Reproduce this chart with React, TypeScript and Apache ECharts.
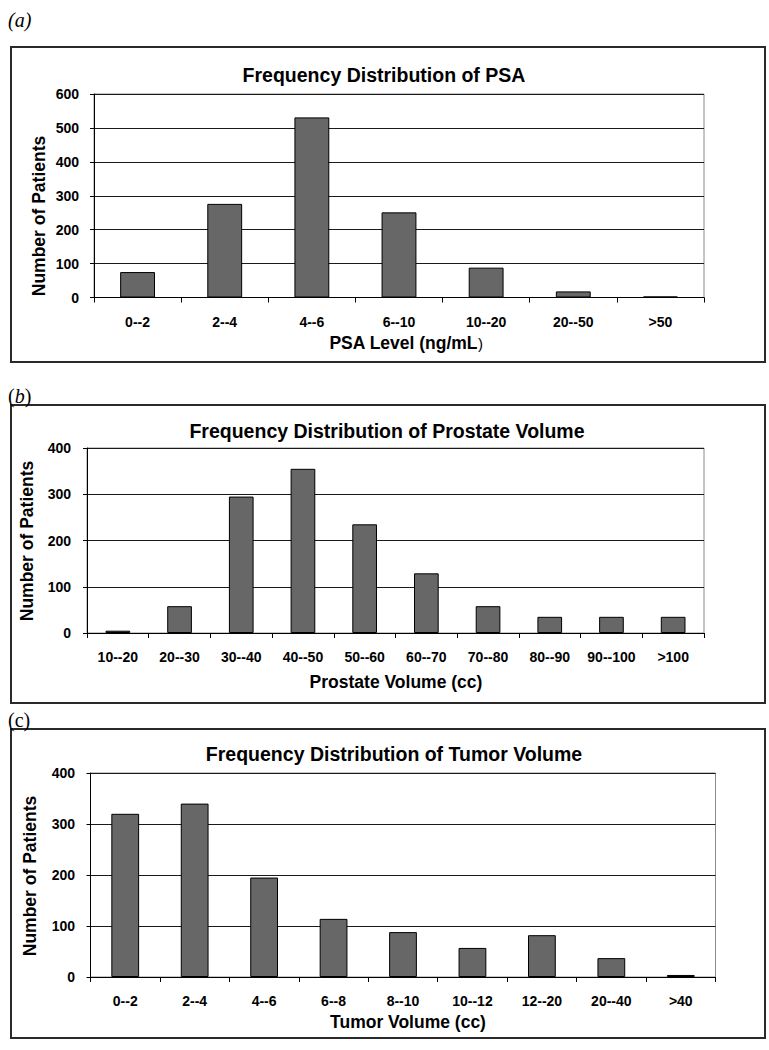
import React, { useEffect, useRef } from "react";
import * as echarts from "echarts";

const psaCategories = ["0--2", "2--4", "4--6", "6--10", "10--20", "20--50", ">50"];
const psaValues = [75, 276, 531, 251, 88, 18, 3];

const prostateCategories = ["10--20", "20--30", "30--40", "40--50", "50--60", "60--70", "70--80", "80--90", "90--100", ">100"];
const prostateValues = [5, 58, 295, 355, 235, 129, 58, 35, 35, 35];

const tumorCategories = ["0--2", "2--4", "4--6", "6--8", "8--10", "10--12", "12--20", "20--40", ">40"];
const tumorValues = [320, 340, 195, 114, 88, 57, 82, 37, 4];

const titles = [
  "Frequency Distribution of PSA",
  "Frequency Distribution of Prostate Volume",
  "Frequency Distribution of Tumor Volume",
];
const yName = "Number of Patients";

const FONT = "'Liberation Sans', Arial, sans-serif";
const SERIF = "'Liberation Serif', 'Times New Roman', serif";

export default function App() {
  const ref = useRef<HTMLDivElement>(null);
  useEffect(() => {
    if (!ref.current) return;
    const chart = echarts.init(ref.current, null, { renderer: "svg" });

    const grids = [
      { left: 94, top: 94, width: 610, height: 203.5 },
      { left: 87, top: 448, width: 617, height: 185 },
      { left: 90.5, top: 773, width: 625, height: 204 },
    ];
    const cats = [psaCategories, prostateCategories, tumorCategories];
    const vals = [psaValues, prostateValues, tumorValues];
    const maxes = [600, 400, 400];
    const yMargins = [15, 16, 15.5];

    const txt = (text: string, x: number, y: number, size: number, extra: any = {}) => ({
      type: "text",
      x,
      y,
      silent: true,
      ...extra,
      style: {
        text,
        fill: "#000",
        font: `bold ${size}px ${FONT}`,
        textAlign: "center",
        textVerticalAlign: "middle",
        align: "center",
        verticalAlign: "middle",
        ...(extra.style || {}),
      },
    });

    const boxes = [
      { y: 47, h: 315 },
      { y: 405, h: 298 },
      { y: 729, h: 309 },
    ].map((b) => ({
      type: "rect",
      silent: true,
      shape: { x: 11, y: b.y, width: 754, height: b.h },
      style: { fill: "none", stroke: "#2a2a2a", lineWidth: 2 },
      z: -1,
    }));

    const graphic: any[] = [
      ...boxes,
      {
        type: "text",
        x: 8,
        y: 20,
        silent: true,
        style: { text: "(a)", fill: "#000", font: `italic 20px ${SERIF}`, textVerticalAlign: "middle", verticalAlign: "middle" },
      },
      {
        type: "text",
        x: 8,
        y: 396,
        silent: true,
        style: {
          text: "({i|b})",
          fill: "#000",
          font: `20px ${SERIF}`,
          textVerticalAlign: "middle",
          verticalAlign: "middle",
          rich: { i: { font: `italic 20px ${SERIF}`, fill: "#000" } },
        },
      },
      {
        type: "text",
        x: 8,
        y: 720,
        silent: true,
        style: { text: "(c)", fill: "#000", font: `20px ${SERIF}`, textVerticalAlign: "middle", verticalAlign: "middle" },
      },
      txt(titles[0], 384, 75, 19.5),
      txt(titles[1], 387, 431, 19.5),
      txt(titles[2], 394, 754, 19.5),
      {
        type: "text",
        x: 406,
        y: 343,
        silent: true,
        style: {
          text: "{b|PSA Level (ng/mL}{r|)}",
          fill: "#000",
          textAlign: "center",
          textVerticalAlign: "middle",
          align: "center",
          verticalAlign: "middle",
          rich: {
            b: { font: `bold 17.5px ${FONT}`, fill: "#000" },
            r: { font: `15px ${FONT}`, fill: "#000" },
          },
        },
      },
      txt("Prostate Volume (cc)", 396, 682, 17.5),
      txt("Tumor Volume (cc)", 408, 1022, 17.5),
      txt(yName, 39, 216, 17.5, { rotation: Math.PI / 2 }),
      txt(yName, 27, 541, 17.5, { rotation: Math.PI / 2 }),
      txt(yName, 30, 876, 17.5, { rotation: Math.PI / 2 }),
    ];

    const option: any = {
      animation: false,
      backgroundColor: "#fff",
      grid: grids.map((g) => ({
        ...g,
        show: true,
        borderColor: "#8c8c8c",
        borderWidth: 1,
        backgroundColor: "transparent",
        containLabel: false,
      })),
      xAxis: cats.map((c, i) => ({
        type: "category",
        gridIndex: i,
        data: c,
        boundaryGap: true,
        axisLine: { show: true, lineStyle: { color: "#000", width: 1 } },
        axisTick: { show: true, inside: false, length: 5, lineStyle: { color: "#000" } },
        axisLabel: {
          interval: 0,
          margin: 17,
          color: "#000",
          fontFamily: FONT,
          fontWeight: "bold",
          fontSize: 14,
        },
        splitLine: { show: false },
      })),
      yAxis: maxes.map((m, i) => ({
        type: "value",
        gridIndex: i,
        min: 0,
        max: m,
        interval: 100,
        axisLine: { show: true, lineStyle: { color: "#000", width: 1 } },
        axisTick: { show: true, inside: false, length: 4, lineStyle: { color: "#000" } },
        axisLabel: {
          margin: yMargins[i],
          color: "#000",
          fontFamily: FONT,
          fontWeight: "bold",
          fontSize: 14,
        },
        splitLine: { show: true, lineStyle: { color: "#1a1a1a", width: 1 } },
      })),
      series: vals.map((v, i) => ({
        type: "bar",
        xAxisIndex: i,
        yAxisIndex: i,
        data: v,
        barWidth: "40%",
        itemStyle: { color: "#676767", borderColor: "#000", borderWidth: 1 },
        z: 3,
      })),
      graphic,
    };

    chart.setOption(option);
    return () => chart.dispose();
  }, []);

  return (
    <div
      ref={ref}
      style={{ position: "absolute", left: 0, top: 0, width: 769, height: 1050 }}
    />
  );
}
